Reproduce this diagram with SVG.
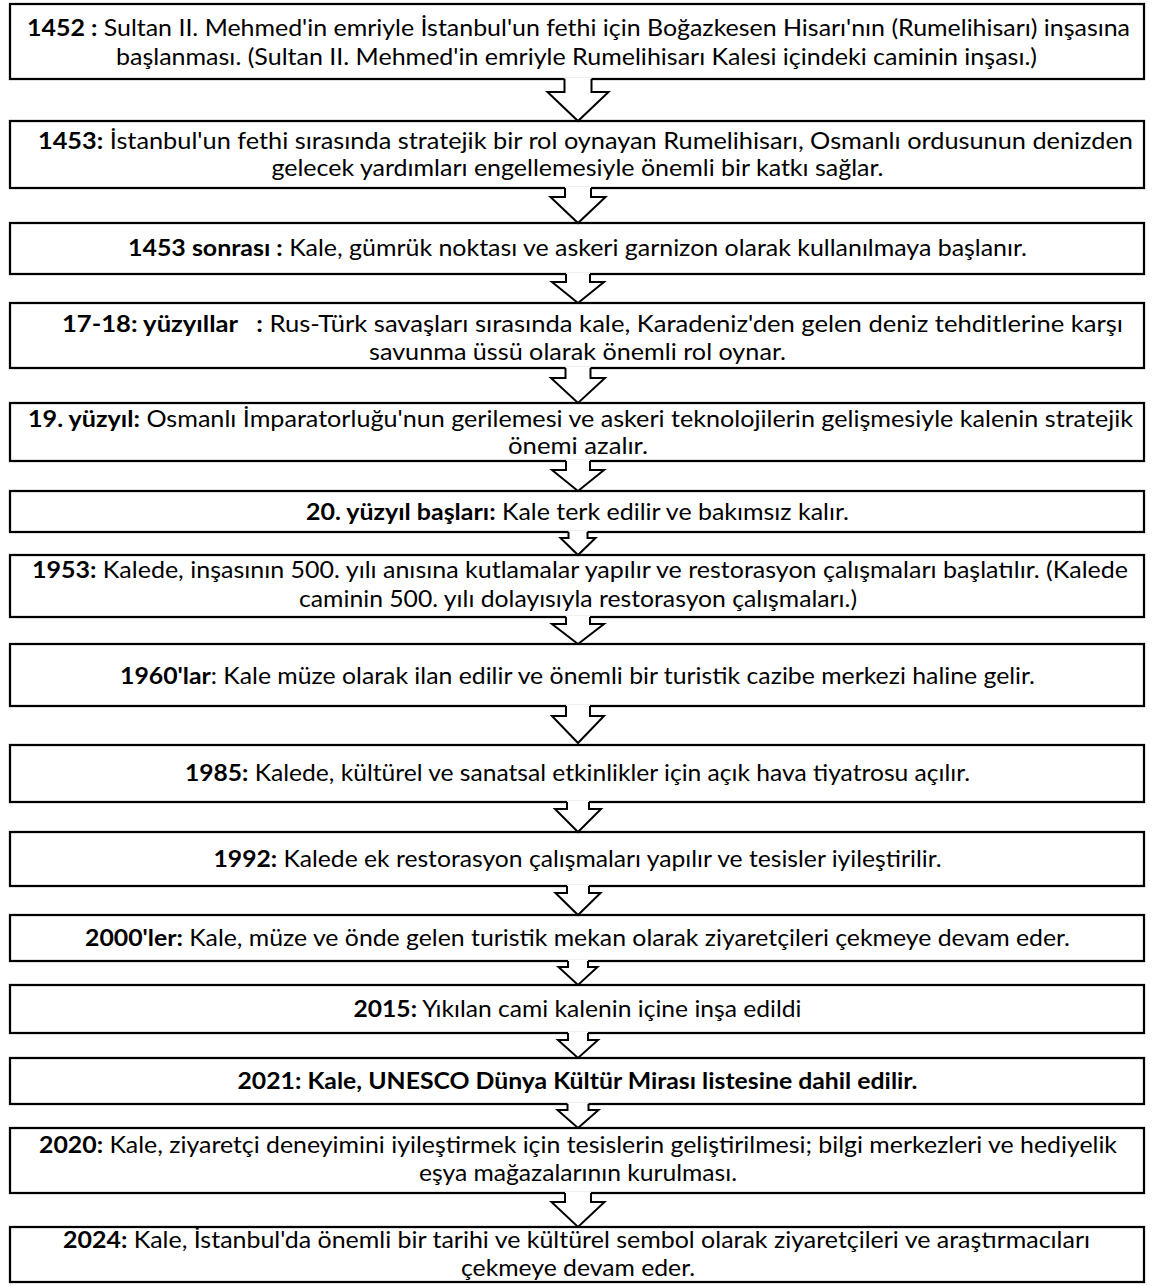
<svg xmlns="http://www.w3.org/2000/svg" width="1152" height="1286" viewBox="0 0 1152 1286">
<style>
.box{fill:#fff;stroke:#000;stroke-width:2.25}
.t{font-family:Lato,"Open Sans","Noto Sans",sans-serif;font-size:23px;fill:#000;text-anchor:middle}
.b{font-weight:bold}
.af{fill:#fff;stroke:none}
.as{fill:none;stroke:#000;stroke-width:2;stroke-linejoin:miter}
</style>
<rect width="1152" height="1286" fill="#fff"/>
<g id="n1"><rect class="box" x="10" y="4" width="1134" height="75"/>
<text class="t" x="578.5" y="36" textLength="1103" lengthAdjust="spacingAndGlyphs"><tspan class="b">1452 :</tspan> Sultan II. Mehmed'in emriyle İstanbul'un fethi için Boğazkesen Hisarı'nın (Rumelihisarı) inşasına</text>
<text class="t" x="576.5" y="65" textLength="921" lengthAdjust="spacingAndGlyphs">başlanması. (Sultan II. Mehmed'in emriyle Rumelihisarı Kalesi içindeki caminin inşası.)</text></g>
<g id="n2"><rect class="box" x="10" y="121" width="1134" height="67"/>
<text class="t" x="585.5" y="149" textLength="1095" lengthAdjust="spacingAndGlyphs"><tspan class="b">1453:</tspan> İstanbul'un fethi sırasında stratejik bir rol oynayan Rumelihisarı, Osmanlı ordusunun denizden</text>
<text class="t" x="577.5" y="176" textLength="612" lengthAdjust="spacingAndGlyphs">gelecek yardımları engellemesiyle önemli bir katkı sağlar.</text></g>
<g id="n3"><rect class="box" x="10" y="223" width="1134" height="51"/>
<text class="t" x="577.5" y="256" textLength="899" lengthAdjust="spacingAndGlyphs"><tspan class="b">1453 sonrası :</tspan> Kale, gümrük noktası ve askeri garnizon olarak kullanılmaya başlanır.</text></g>
<g id="n4"><rect class="box" x="10" y="303" width="1134" height="65"/>
<text class="t" x="592.5" y="332" textLength="1061" lengthAdjust="spacingAndGlyphs" xml:space="preserve"><tspan class="b">17-18: yüzyıllar   :</tspan> Rus-Türk savaşları sırasında kale, Karadeniz'den gelen deniz tehditlerine karşı</text>
<text class="t" x="577.5" y="360" textLength="417" lengthAdjust="spacingAndGlyphs">savunma üssü olarak önemli rol oynar.</text></g>
<g id="n5"><rect class="box" x="10" y="403" width="1134" height="58"/>
<text class="t" x="580.5" y="427" textLength="1105" lengthAdjust="spacingAndGlyphs"><tspan class="b">19. yüzyıl:</tspan> Osmanlı İmparatorluğu'nun gerilemesi ve askeri teknolojilerin gelişmesiyle kalenin stratejik</text>
<text class="t" x="578" y="454" textLength="140" lengthAdjust="spacingAndGlyphs">önemi azalır.</text></g>
<g id="n6"><rect class="box" x="10" y="491" width="1134" height="41"/>
<text class="t" x="577.5" y="520" textLength="543" lengthAdjust="spacingAndGlyphs"><tspan class="b">20. yüzyıl başları:</tspan> Kale terk edilir ve bakımsız kalır.</text></g>
<g id="n7"><rect class="box" x="10" y="555" width="1134" height="62"/>
<text class="t" x="580" y="578" textLength="1096" lengthAdjust="spacingAndGlyphs"><tspan class="b">1953:</tspan> Kalede, inşasının 500. yılı anısına kutlamalar yapılır ve restorasyon çalışmaları başlatılır. (Kalede</text>
<text class="t" x="578" y="607" textLength="558" lengthAdjust="spacingAndGlyphs">caminin 500. yılı dolayısıyla restorasyon çalışmaları.)</text></g>
<g id="n8"><rect class="box" x="10" y="644" width="1134" height="62"/>
<text class="t" x="577.5" y="684" textLength="915" lengthAdjust="spacingAndGlyphs"><tspan class="b">1960'lar</tspan>: Kale müze olarak ilan edilir ve önemli bir turistik cazibe merkezi haline gelir.</text></g>
<g id="n9"><rect class="box" x="10" y="745" width="1134" height="57"/>
<text class="t" x="577.5" y="781" textLength="785" lengthAdjust="spacingAndGlyphs"><tspan class="b">1985:</tspan> Kalede, kültürel ve sanatsal etkinlikler için açık hava tiyatrosu açılır.</text></g>
<g id="n10"><rect class="box" x="10" y="832" width="1134" height="54"/>
<text class="t" x="577.5" y="867" textLength="728" lengthAdjust="spacingAndGlyphs"><tspan class="b">1992:</tspan> Kalede ek restorasyon çalışmaları yapılır ve tesisler iyileştirilir.</text></g>
<g id="n11"><rect class="box" x="10" y="915" width="1134" height="46"/>
<text class="t" x="577.5" y="946" textLength="985" lengthAdjust="spacingAndGlyphs"><tspan class="b">2000'ler:</tspan> Kale, müze ve önde gelen turistik mekan olarak ziyaretçileri çekmeye devam eder.</text></g>
<g id="n12"><rect class="box" x="10" y="985" width="1134" height="48"/>
<text class="t" x="577.5" y="1017" textLength="448" lengthAdjust="spacingAndGlyphs"><tspan class="b">2015:</tspan> Yıkılan cami kalenin içine inşa edildi</text></g>
<g id="n13"><rect class="box" x="10" y="1058" width="1134" height="46"/>
<text class="t b" x="577.5" y="1089" textLength="680" lengthAdjust="spacingAndGlyphs">2021: Kale, UNESCO Dünya Kültür Mirası listesine dahil edilir.</text></g>
<g id="n14"><rect class="box" x="10" y="1128" width="1134" height="65"/>
<text class="t" x="578" y="1153" textLength="1078" lengthAdjust="spacingAndGlyphs"><tspan class="b">2020:</tspan> Kale, ziyaretçi deneyimini iyileştirmek için tesislerin geliştirilmesi; bilgi merkezleri ve hediyelik</text>
<text class="t" x="578" y="1181" textLength="318" lengthAdjust="spacingAndGlyphs">eşya mağazalarının kurulması.</text></g>
<g id="n15"><rect class="box" x="10" y="1227" width="1134" height="55"/>
<text class="t" x="576.5" y="1248" textLength="1027" lengthAdjust="spacingAndGlyphs"><tspan class="b">2024:</tspan> Kale, İstanbul'da önemli bir tarihi ve kültürel sembol olarak ziyaretçileri ve araştırmacıları</text>
<text class="t" x="578" y="1276" textLength="234" lengthAdjust="spacingAndGlyphs">çekmeye devam eder.</text></g>
<g id="connectors">
<path class="af" d="M564.5,77.5 V92 H547.5 L578,121 L608.5,92 H591.5 V77.5 Z"/><path class="as" d="M564.5,79 V92 H547.5 L578,121 L608.5,92 H591.5 V79"/>
<path class="af" d="M565,186.5 V197 H550.5 L578,223 L605.5,197 H591 V186.5 Z"/><path class="as" d="M565,188 V197 H550.5 L578,223 L605.5,197 H591 V188"/>
<path class="af" d="M566,272.5 V282 H552 L578,303 L604,282 H590 V272.5 Z"/><path class="as" d="M566,274 V282 H552 L578,303 L604,282 H590 V274"/>
<path class="af" d="M565.5,366.5 V378 H551 L578,403 L605,378 H590.5 V366.5 Z"/><path class="as" d="M565.5,368 V378 H551 L578,403 L605,378 H590.5 V368"/>
<path class="af" d="M566,459.5 V470 H552 L578,491 L604,470 H590 V459.5 Z"/><path class="as" d="M566,461 V470 H552 L578,491 L604,470 H590 V461"/>
<path class="af" d="M568.5,530.5 V538 H560.5 L578,555 L595.5,538 H587.5 V530.5 Z"/><path class="as" d="M568.5,532 V538 H560.5 L578,555 L595.5,538 H587.5 V532"/>
<path class="af" d="M566,615.5 V624 H552 L578,644 L604,624 H590 V615.5 Z"/><path class="as" d="M566,617 V624 H552 L578,644 L604,624 H590 V617"/>
<path class="af" d="M566,704.5 V716 H552 L578,743 L604,716 H590 V704.5 Z"/><path class="as" d="M566,706 V716 H552 L578,743 L604,716 H590 V706"/>
<path class="af" d="M567,800.5 V809 H555 L578,832 L601,809 H589 V800.5 Z"/><path class="as" d="M567,802 V809 H555 L578,832 L601,809 H589 V802"/>
<path class="af" d="M567,884.5 V893 H555.5 L578,915 L600.5,893 H589 V884.5 Z"/><path class="as" d="M567,886 V893 H555.5 L578,915 L600.5,893 H589 V886"/>
<path class="af" d="M568,959.5 V967 H558.5 L578,985 L597.5,967 H588 V959.5 Z"/><path class="as" d="M568,961 V967 H558.5 L578,985 L597.5,967 H588 V961"/>
<path class="af" d="M568,1031.5 V1040 H558 L578,1058 L598,1040 H588 V1031.5 Z"/><path class="as" d="M568,1033 V1040 H558 L578,1058 L598,1040 H588 V1033"/>
<path class="af" d="M567.5,1102.5 V1110 H557.5 L578,1128 L598.5,1110 H588.5 V1102.5 Z"/><path class="as" d="M567.5,1104 V1110 H557.5 L578,1128 L598.5,1110 H588.5 V1104"/>
<path class="af" d="M565,1191.5 V1202 H551.5 L578,1227 L604.5,1202 H591 V1191.5 Z"/><path class="as" d="M565,1193 V1202 H551.5 L578,1227 L604.5,1202 H591 V1193"/>
</g>
</svg>
